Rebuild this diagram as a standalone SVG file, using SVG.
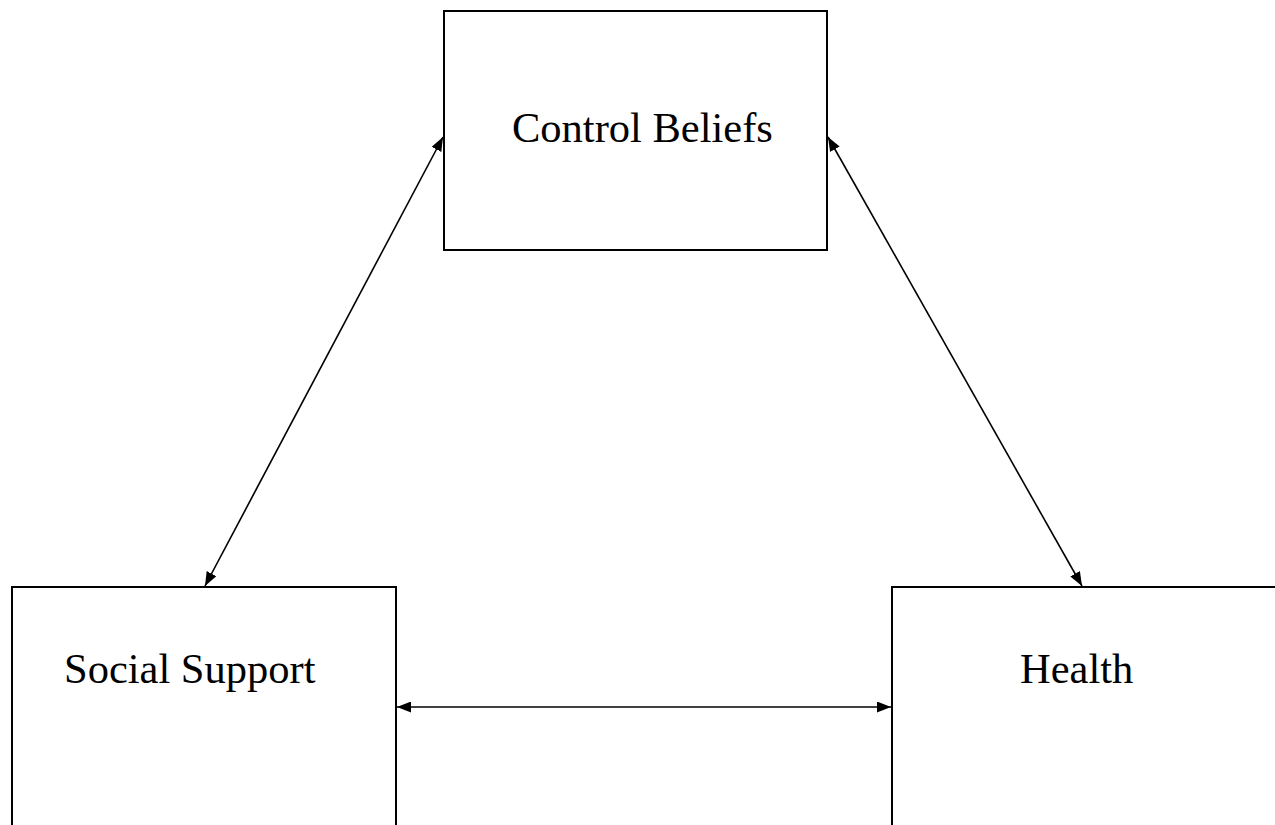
<svg xmlns="http://www.w3.org/2000/svg" width="1275" height="825" viewBox="0 0 1275 825">
<defs>
<style>
.box{fill:#fff;stroke:#000;stroke-width:2}
.lbl{font-family:"Liberation Serif","Times New Roman",serif;font-size:42.5px;fill:#000}
.conn{stroke:#000;stroke-width:1.6;fill:none;marker-start:url(#ah);marker-end:url(#ah)}
</style>
<marker id="ah" viewBox="0 0 14 11" refX="14" refY="5.5" markerWidth="14" markerHeight="11" markerUnits="userSpaceOnUse" orient="auto-start-reverse">
<path d="M0,0 L14,5.5 L0,11 Z" fill="#000"/>
</marker>
</defs>
<rect width="1275" height="825" fill="#fff"/>
<g id="control-beliefs">
<rect class="box" x="444" y="11" width="383" height="239"/>
<text class="lbl" x="512" y="142">Control Beliefs</text>
</g>
<g id="social-support">
<rect class="box" x="12" y="587" width="384" height="260"/>
<text class="lbl" x="64" y="683">Social Support</text>
</g>
<g id="health">
<rect class="box" x="892" y="587" width="400" height="260"/>
<text class="lbl" x="1020" y="683">Health</text>
</g>
<g id="connectors">
<line class="conn" x1="443" y1="137" x2="205" y2="586"/>
<line class="conn" x1="828" y1="137" x2="1082" y2="586"/>
<line class="conn" x1="397" y1="707" x2="891" y2="707"/>
</g>
</svg>
